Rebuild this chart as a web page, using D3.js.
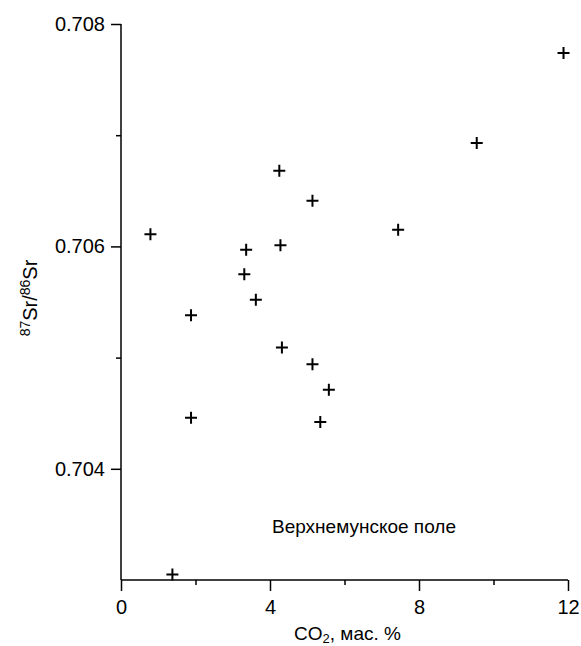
<!DOCTYPE html>
<html>
<head>
<meta charset="utf-8">
<script src="https://cdn.jsdelivr.net/npm/d3@7"></script>
<style>
  body { margin: 0; background: #fff; }
  text { font-family: "Liberation Sans", Arial, sans-serif; fill: #000; }
</style>
</head>
<body>
<div id="chart"></div>
<script>
var width = 581;
var height = 646;

// CO2 wt.% and 87Sr/86Sr values
var co2 = [0.79, 4.25, 5.14, 3.36, 4.28, 3.31, 3.62, 1.88, 4.32, 5.14, 5.58, 1.88, 5.35, 11.88, 9.55, 7.44, 1.38];
var srRatio = [0.70611, 0.70668, 0.70641, 0.70597, 0.70601, 0.70575, 0.70552, 0.70538, 0.70509, 0.70494, 0.70471, 0.70446, 0.70442, 0.70774, 0.70693, 0.70615, 0.70305];

var xMajor = [0, 4, 8, 12];
var xMinor = [2, 6, 10];
var yMajor = [0.704, 0.706, 0.708];
var yMinor = [0.705, 0.707];

var x = d3.scaleLinear().domain([0, 12]).range([121, 568]);
var y = d3.scaleLinear().domain([0.703, 0.708]).range([580, 24]);

var svg = d3.select("#chart")
    .append("svg")
    .attr("width", width)
    .attr("height", height);

// axes
svg.append("g")
    .attr("transform", "translate(0," + y(0.703) + ")")
    .call(d3.axisBottom(x).tickValues(xMajor).tickSize(11).tickPadding(9).tickFormat(d3.format("d")));

svg.append("g")
    .attr("transform", "translate(0," + y(0.703) + ")")
    .call(d3.axisBottom(x).tickValues(xMinor).tickSize(5).tickFormat(""));

svg.append("g")
    .attr("transform", "translate(" + x(0) + ",0)")
    .call(d3.axisLeft(y).tickValues(yMajor).tickSize(10).tickPadding(6).tickFormat(d3.format(".3f")));

svg.append("g")
    .attr("transform", "translate(" + x(0) + ",0)")
    .call(d3.axisLeft(y).tickValues(yMinor).tickSize(5).tickFormat(""));

svg.selectAll(".domain")
    .attr("d", null);

// plain axis lines, no end caps
svg.append("line")
    .attr("x1", x(0)).attr("x2", x(0))
    .attr("y1", y(0.708)).attr("y2", y(0.703))
    .attr("stroke", "#000").attr("stroke-width", 1.5);
svg.append("line")
    .attr("x1", x(0)).attr("x2", x(12))
    .attr("y1", y(0.703)).attr("y2", y(0.703))
    .attr("stroke", "#000").attr("stroke-width", 1.5);

svg.selectAll(".tick line")
    .attr("stroke", "#000")
    .attr("stroke-width", 1.5);

svg.selectAll(".tick text")
    .style("font-size", "20px")
    .style("font-family", "'Liberation Sans', Arial, sans-serif");

// points as "+" markers
var points = co2.map(function(d, i) {
    return { "co2": d, "sr": srRatio[i] };
});

svg.selectAll(".pt")
    .data(points)
    .enter().append("path")
    .attr("class", "pt")
    .attr("d", function(d) {
        var cx = x(d.co2), cy = y(d.sr), r = 6;
        return "M" + (cx - r) + "," + cy + "H" + (cx + r) +
            "M" + cx + "," + (cy - r) + "V" + (cy + r);
    })
    .attr("stroke", "#000")
    .attr("stroke-width", 2)
    .attr("fill", "none");

// axis titles
var xTitle = svg.append("text")
    .attr("x", (x(0) + x(12)) / 2 + 3)
    .attr("y", 640)
    .attr("text-anchor", "middle")
    .style("font-size", "19px");
xTitle.append("tspan").text("CO");
xTitle.append("tspan").attr("dy", 3).style("font-size", "13px").text("2");
xTitle.append("tspan").attr("dy", -3).text(", мас. %");

var yTitle = svg.append("text")
    .attr("transform", "translate(37," + 298 + ") rotate(-90)")
    .attr("text-anchor", "middle")
    .style("font-size", "20px");
yTitle.append("tspan").attr("dy", -7).style("font-size", "14px").text("87");
yTitle.append("tspan").attr("dy", 7).text("Sr/");
yTitle.append("tspan").attr("dy", -7).style("font-size", "14px").text("86");
yTitle.append("tspan").attr("dy", 7).text("Sr");

// field label
svg.append("text")
    .attr("x", 272)
    .attr("y", 533)
    .style("font-size", "19px")
    .text("Верхнемунское поле");
</script>
</body>
</html>
